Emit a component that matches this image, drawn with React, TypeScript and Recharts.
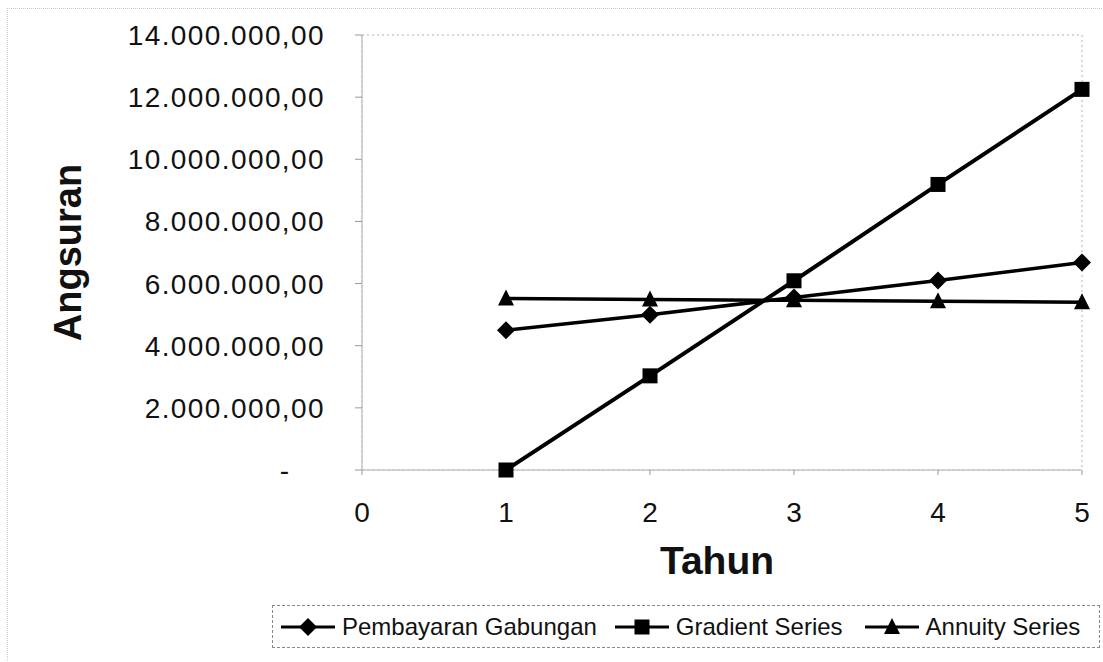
import { LineChart, Line, XAxis, YAxis, Legend, ReferenceArea, Label } from "recharts";

// values
const years = [1, 2, 3, 4, 5];
const gabungan = [4500000, 5000000, 5550000, 6100000, 6680000];
const gradient = [0, 3030000, 6090000, 9190000, 12250000];
const annuity = [5520000, 5490000, 5460000, 5430000, 5400000];
const xTicks = [0, 1, 2, 3, 4, 5];
const yTicks = [0, 2000000, 4000000, 6000000, 8000000, 10000000, 12000000, 14000000];

const data = years.map((t, i) => ({
  tahun: t,
  gabungan: gabungan[i],
  gradient: gradient[i],
  annuity: annuity[i],
}));

const FONT = "'Liberation Sans', Arial, sans-serif";
const AXIS_GRAY = "#9a9a9a";

// 14000000 -> "14.000.000,00"
const fmt = (n: number) => {
  const s = Math.round(n).toString().replace(/\B(?=(\d{3})+(?!\d))/g, ".");
  return s + ",00";
};

const Diamond = ({ cx, cy, r = 9 }: { cx: number; cy: number; r?: number }) => (
  <polygon points={`${cx},${cy - r} ${cx + r},${cy} ${cx},${cy + r} ${cx - r},${cy}`} fill="#000" />
);
const Square = ({ cx, cy, s = 15 }: { cx: number; cy: number; s?: number }) => (
  <rect x={cx - s / 2} y={cy - s / 2} width={s} height={s} fill="#000" />
);
const Triangle = ({ cx, cy, s = 16 }: { cx: number; cy: number; s?: number }) => (
  <polygon points={`${cx},${cy - s / 2 - 1} ${cx + s / 2},${cy + s / 2 - 1} ${cx - s / 2},${cy + s / 2 - 1}`} fill="#000" />
);

const YTick = (props: any) => {
  const { x, y, payload } = props;
  const v = payload.value as number;
  if (v === 0) {
    return (
      <text x={x - 36} y={y} dy="0.35em" textAnchor="end" fontFamily={FONT} fontSize={28} fill="#111">
        -
      </text>
    );
  }
  return (
    <text x={x} y={y} dy="0.355em" textAnchor="end" fontFamily={FONT} fontSize={28} letterSpacing={1.4} fill="#111">
      {fmt(v)}
    </text>
  );
};

const legendItems = [
  { name: "Pembayaran Gabungan", Mark: Diamond },
  { name: "Gradient Series", Mark: Square },
  { name: "Annuity Series", Mark: Triangle },
];

const LegendBox = () => (
  <div
    style={{
      boxSizing: "border-box",
      width: "100%",
      height: "100%",
      border: "1px dashed #8a8a8a",
      display: "flex",
      alignItems: "center",
      paddingLeft: 8,
      fontFamily: FONT,
      fontSize: 24,
      color: "#111",
      whiteSpace: "nowrap",
    }}
  >
    {legendItems.map(({ name, Mark }, i) => (
      <div key={name} style={{ display: "flex", alignItems: "center", marginRight: i === 0 ? 18 : 22 }}>
        <svg width={54} height={20} style={{ marginRight: 7 }}>
          <line x1={0} y1={10} x2={54} y2={10} stroke="#000" strokeWidth={3} />
          <Mark cx={27} cy={10} />
        </svg>
        <span>{name}</span>
      </div>
    ))}
  </div>
);

export default function App() {
  return (
    <div style={{ position: "absolute", left: 0, top: 0, width: 1103, height: 662, background: "#fff" }}>
      <div
        style={{
          position: "absolute",
          left: 7,
          top: 8,
          width: 1096,
          height: 654,
          borderTop: "1px dotted #c8c8c8",
          borderLeft: "1px dotted #c8c8c8",
        }}
      />
      <LineChart
        width={1103}
        height={662}
        data={data}
        margin={{ top: 35, right: 21, bottom: 0, left: 0 }}
        style={{ position: "absolute", left: 0, top: 0 }}
      >
        <ReferenceArea
          x1={0}
          x2={5}
          y1={0}
          y2={14000000}
          fill="none"
          stroke="#b0b0b0"
          strokeDasharray="2 3"
        />
        <XAxis
          dataKey="tahun"
          type="number"
          domain={[0, 5]}
          ticks={xTicks}
          height={192}
          axisLine={{ stroke: AXIS_GRAY, strokeDasharray: "3 2" }}
          tickLine={{ stroke: AXIS_GRAY }}
          tickSize={5}
          tickMargin={27}
          tick={{ fontFamily: FONT, fontSize: 28, fill: "#111" }}
        >
          <Label
            content={(p: any) => {
              const vb = p.viewBox;
              return (
                <text
                  x={717}
                  y={vb.y + 104}
                  textAnchor="middle"
                  fontFamily={FONT}
                  fontWeight="bold"
                  fontSize={39}
                  fill="#111"
                >
                  Tahun
                </text>
              );
            }}
          />
        </XAxis>
        <YAxis
          type="number"
          domain={[0, 14000000]}
          ticks={yTicks}
          width={362}
          axisLine={{ stroke: AXIS_GRAY, strokeDasharray: "3 2" }}
          tickLine={{ stroke: AXIS_GRAY }}
          tickSize={7}
          tickMargin={30}
          tick={<YTick />}
        >
          <Label
            content={(p: any) => {
              const vb = p.viewBox;
              const cy = vb.y + vb.height / 2;
              return (
                <text
                  x={81}
                  y={cy}
                  transform={`rotate(-90 81 ${cy})`}
                  textAnchor="middle"
                  fontFamily={FONT}
                  fontWeight="bold"
                  fontSize={38}
                  fill="#111"
                >
                  Angsuran
                </text>
              );
            }}
          />
        </YAxis>
        <Legend
          layout="horizontal"
          verticalAlign="middle"
          align="center"
          wrapperStyle={{ left: 272, top: 605, width: 828, height: 43 }}
          content={<LegendBox />}
        />
        <Line
          dataKey="gabungan"
          stroke="#000"
          strokeWidth={3.5}
          isAnimationActive={false}
          dot={(p: any) => <Diamond key={`d-${p.index}`} cx={p.cx} cy={p.cy} />}
          activeDot={false}
        />
        <Line
          dataKey="gradient"
          stroke="#000"
          strokeWidth={4}
          isAnimationActive={false}
          dot={(p: any) => <Square key={`s-${p.index}`} cx={p.cx} cy={p.cy} />}
          activeDot={false}
        />
        <Line
          dataKey="annuity"
          stroke="#000"
          strokeWidth={3.5}
          isAnimationActive={false}
          dot={(p: any) => <Triangle key={`t-${p.index}`} cx={p.cx} cy={p.cy} />}
          activeDot={false}
        />
      </LineChart>
    </div>
  );
}
